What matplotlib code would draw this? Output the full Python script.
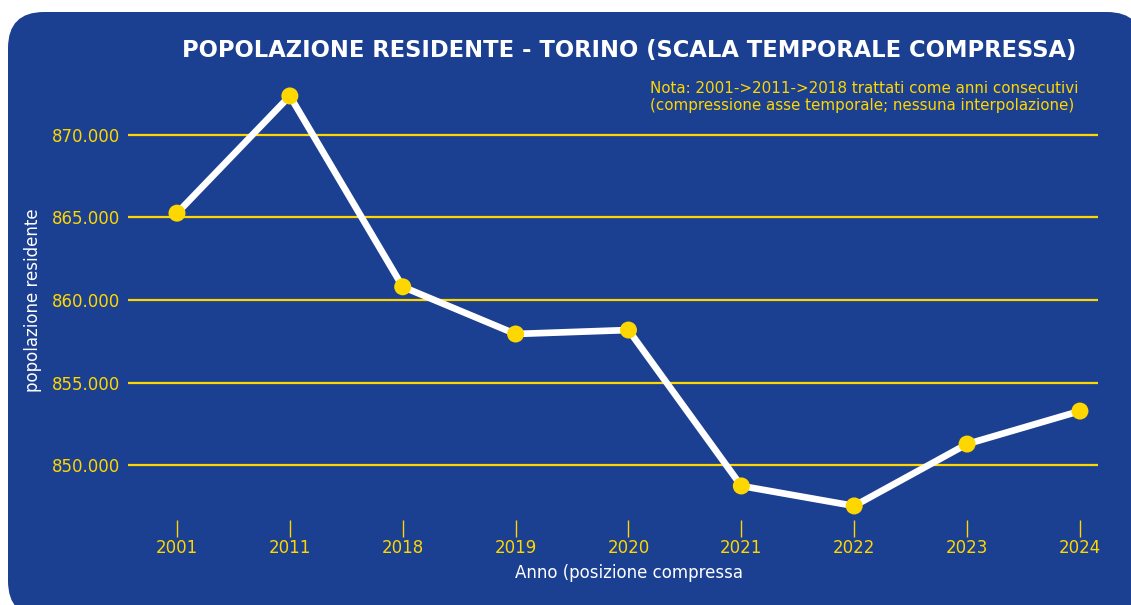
import matplotlib
matplotlib.use("Agg")
import matplotlib.pyplot as plt
from matplotlib.patches import FancyBboxPatch
from matplotlib.ticker import FuncFormatter

# data
anni = ["2001", "2011", "2018", "2019", "2020", "2021", "2022", "2023", "2024"]
popolazione = [865263, 872367, 860800, 857940, 858180, 848730, 847520, 851270, 853270]
y_ticks = [850000, 855000, 860000, 865000, 870000]

BLU = "#1b3f91"
GIALLO = "#ffd700"

plt.rcParams["font.family"] = ["DejaVu Sans"]

fig = plt.figure(figsize=(11.31, 6.05), dpi=100)
fig.patch.set_facecolor("white")

# background panel with rounded corners (pixel coords)
bg = fig.add_axes([0, 0, 1, 1])
bg.set_xlim(0, 1131)
bg.set_ylim(605, 0)
bg.axis("off")
bg.add_patch(FancyBboxPatch((8, 12), 1135, 605, boxstyle="round,pad=0,rounding_size=36",
                            facecolor=BLU, edgecolor="none"))

ax = fig.add_axes([128 / 1131, 1 - 520 / 605, (1098 - 128) / 1131, (520 - 85) / 605])
ax.set_facecolor("none")
x = list(range(len(anni)))

for t in y_ticks:
    ax.axhline(t, color=GIALLO, lw=1.6, zorder=1)

ax.plot(x, popolazione, color="white", lw=4.8, zorder=2, solid_capstyle="round")
ax.scatter(x, popolazione, s=150, color=GIALLO, edgecolors="none", zorder=3)

ax.set_xlim(-0.434, 8.16)
ax.set_ylim(846667, 873030)
ax.set_xticks(x)
ax.set_xticklabels(anni)
ax.set_yticks(y_ticks)
ax.yaxis.set_major_formatter(FuncFormatter(lambda v, p: f"{int(v):,}".replace(",", ".")))

for s in ax.spines.values():
    s.set_visible(False)
ax.tick_params(axis="x", colors=GIALLO, labelsize=12, length=12, width=1, pad=1.5)
ax.tick_params(axis="y", colors=GIALLO, labelsize=12, length=0, pad=6)

fig.text(629 / 1131, 1 - 573 / 605, "Anno (posizione compressa", color="white", fontsize=12,
         ha="center", va="center")
fig.text(33 / 1131, 1 - 300 / 605, "popolazione residente", color="white", fontsize=12,
         rotation=90, ha="center", va="center")

fig.text(629 / 1131, 1 - 50 / 605, "POPOLAZIONE RESIDENTE - TORINO (SCALA TEMPORALE COMPRESSA)",
         color="white", fontsize=16.3, fontweight="bold", ha="center", va="center")
fig.text(1078 / 1131, 1 - 97 / 605,
         "Nota: 2001->2011->2018 trattati come anni consecutivi\n"
         "(compressione asse temporale; nessuna interpolazione)",
         color=GIALLO, fontsize=10.9, ha="right", va="center", linespacing=1.15,
         multialignment="left")

fig.savefig("out.png", dpi=100, facecolor="white")
